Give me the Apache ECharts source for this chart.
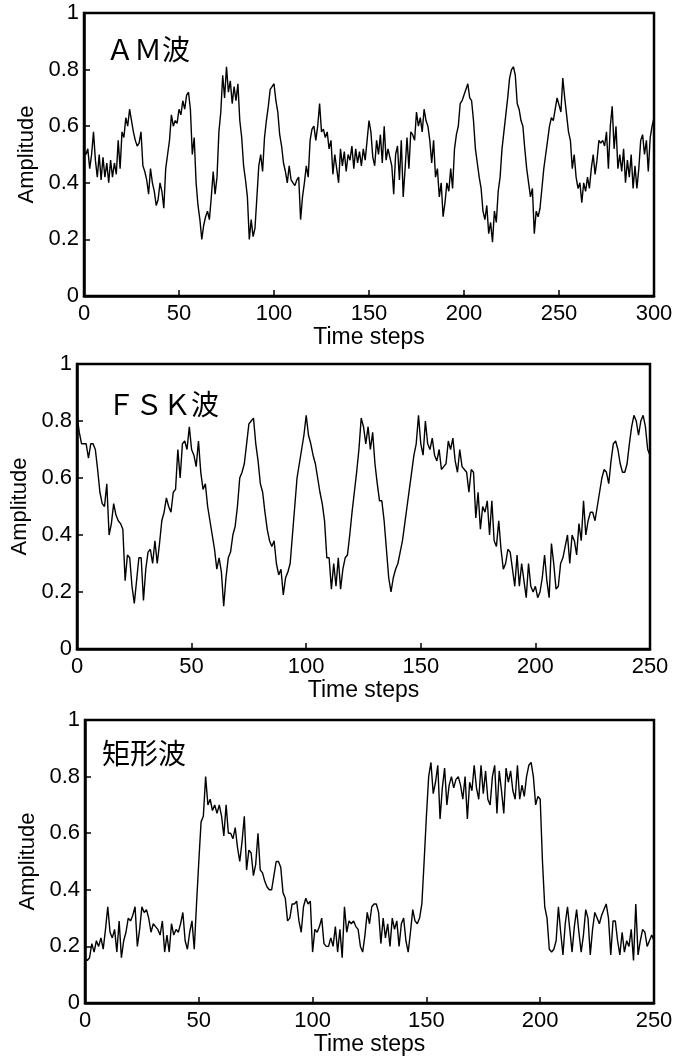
<!DOCTYPE html>
<html>
<head>
<meta charset="utf-8">
<script src="https://cdn.jsdelivr.net/npm/echarts@6/dist/echarts.min.js"></script>
<style>
  html, body { margin: 0; padding: 0; background: #fff; }
  #chart { width: 684px; height: 1059px; }
</style>
</head>
<body>
<div id="chart"></div>
<script>
// Sampled amplitudes, one value per time step.
const amWave = [
  0.51,0.50,0.52,0.45,0.50,0.58,0.48,0.42,0.50,0.41,
  0.49,0.42,0.47,0.40,0.48,0.42,0.47,0.43,0.55,0.45,
  0.58,0.56,0.63,0.60,0.66,0.62,0.58,0.55,0.53,0.54,
  0.58,0.46,0.44,0.41,0.36,0.45,0.40,0.37,0.32,0.34,
  0.40,0.37,0.31,0.45,0.50,0.55,0.64,0.60,0.62,0.61,
  0.66,0.64,0.69,0.66,0.71,0.72,0.66,0.50,0.56,0.40,
  0.32,0.27,0.20,0.25,0.28,0.30,0.27,0.35,0.44,0.36,
  0.42,0.58,0.65,0.78,0.70,0.81,0.72,0.76,0.68,0.74,
  0.69,0.75,0.62,0.56,0.46,0.41,0.35,0.20,0.27,0.21,
  0.24,0.35,0.46,0.50,0.44,0.56,0.62,0.67,0.73,0.74,
  0.75,0.69,0.65,0.57,0.53,0.47,0.44,0.40,0.46,0.41,
  0.40,0.39,0.41,0.42,0.27,0.35,0.40,0.46,0.42,0.55,
  0.59,0.60,0.55,0.60,0.68,0.58,0.59,0.56,0.58,0.52,
  0.55,0.43,0.50,0.45,0.40,0.52,0.46,0.51,0.44,0.50,
  0.48,0.53,0.45,0.52,0.47,0.51,0.46,0.52,0.48,0.55,
  0.62,0.58,0.49,0.46,0.55,0.50,0.57,0.47,0.60,0.48,
  0.52,0.49,0.46,0.36,0.50,0.53,0.41,0.55,0.35,0.45,
  0.56,0.45,0.58,0.57,0.55,0.65,0.60,0.63,0.58,0.66,
  0.62,0.60,0.55,0.47,0.55,0.42,0.45,0.35,0.40,0.28,
  0.33,0.40,0.37,0.45,0.38,0.52,0.57,0.60,0.68,0.69,
  0.71,0.73,0.75,0.70,0.69,0.62,0.52,0.47,0.42,0.38,
  0.30,0.27,0.32,0.22,0.26,0.19,0.30,0.26,0.37,0.42,
  0.52,0.58,0.64,0.70,0.77,0.80,0.81,0.78,0.68,0.66,
  0.62,0.60,0.52,0.45,0.40,0.35,0.38,0.22,0.30,0.28,
  0.31,0.38,0.45,0.50,0.55,0.60,0.63,0.62,0.66,0.70,
  0.70,0.65,0.77,0.70,0.64,0.58,0.55,0.45,0.50,0.42,
  0.38,0.40,0.33,0.40,0.37,0.42,0.38,0.45,0.50,0.43,
  0.48,0.55,0.54,0.55,0.53,0.58,0.45,0.60,0.67,0.52,
  0.60,0.45,0.50,0.44,0.52,0.40,0.48,0.42,0.50,0.38,
  0.46,0.38,0.45,0.55,0.57,0.50,0.55,0.44,0.56,0.60,
  0.63
];

const fskWave = [
  0.82,0.76,0.72,0.72,0.72,0.67,0.72,0.72,0.70,0.63,
  0.55,0.51,0.50,0.58,0.40,0.44,0.51,0.47,0.45,0.44,
  0.42,0.24,0.33,0.32,0.22,0.16,0.24,0.32,0.32,0.17,
  0.28,0.34,0.35,0.30,0.38,0.30,0.37,0.45,0.48,0.53,
  0.50,0.48,0.55,0.56,0.70,0.60,0.72,0.73,0.70,0.78,
  0.70,0.68,0.64,0.73,0.62,0.56,0.58,0.50,0.45,0.40,
  0.35,0.28,0.32,0.27,0.15,0.25,0.32,0.34,0.40,0.43,
  0.50,0.60,0.62,0.65,0.72,0.79,0.80,0.81,0.72,0.66,
  0.58,0.55,0.48,0.42,0.38,0.36,0.38,0.30,0.26,0.28,
  0.19,0.25,0.27,0.30,0.40,0.50,0.60,0.65,0.70,0.75,
  0.82,0.75,0.72,0.68,0.65,0.60,0.55,0.51,0.45,0.32,
  0.32,0.21,0.30,0.22,0.32,0.21,0.28,0.32,0.33,0.40,
  0.48,0.55,0.62,0.70,0.81,0.78,0.72,0.78,0.70,0.76,
  0.65,0.58,0.52,0.52,0.45,0.35,0.25,0.20,0.25,0.28,
  0.30,0.34,0.38,0.44,0.50,0.56,0.62,0.68,0.72,0.82,
  0.72,0.68,0.80,0.72,0.70,0.74,0.68,0.66,0.70,0.63,
  0.64,0.65,0.73,0.70,0.74,0.66,0.62,0.70,0.64,0.63,
  0.62,0.55,0.63,0.62,0.46,0.55,0.42,0.50,0.48,0.52,
  0.40,0.52,0.38,0.36,0.45,0.35,0.28,0.30,0.35,0.34,
  0.28,0.22,0.33,0.22,0.30,0.24,0.18,0.30,0.22,0.20,
  0.22,0.18,0.20,0.25,0.33,0.24,0.18,0.37,0.30,0.21,
  0.22,0.30,0.32,0.36,0.40,0.30,0.40,0.38,0.33,0.44,
  0.38,0.52,0.40,0.45,0.48,0.48,0.45,0.50,0.55,0.60,
  0.63,0.62,0.58,0.66,0.72,0.73,0.70,0.65,0.62,0.62,
  0.65,0.72,0.78,0.82,0.80,0.75,0.80,0.82,0.78,0.70,
  0.68
];

const rectWave = [
  0.16,0.15,0.16,0.21,0.18,0.22,0.20,0.23,0.19,0.26,
  0.34,0.25,0.23,0.26,0.18,0.29,0.16,0.22,0.25,0.30,
  0.29,0.31,0.34,0.20,0.26,0.34,0.32,0.33,0.30,0.25,
  0.28,0.27,0.26,0.24,0.29,0.18,0.24,0.18,0.28,0.24,
  0.26,0.25,0.28,0.32,0.22,0.19,0.25,0.29,0.19,0.35,
  0.50,0.64,0.66,0.80,0.70,0.72,0.68,0.70,0.67,0.70,
  0.66,0.59,0.70,0.60,0.60,0.58,0.62,0.55,0.50,0.57,
  0.66,0.47,0.54,0.53,0.45,0.49,0.60,0.47,0.46,0.43,
  0.41,0.40,0.40,0.45,0.50,0.50,0.48,0.39,0.37,0.29,
  0.30,0.35,0.35,0.36,0.29,0.25,0.34,0.37,0.35,0.36,
  0.18,0.26,0.25,0.27,0.30,0.21,0.20,0.20,0.23,0.20,
  0.27,0.18,0.26,0.16,0.34,0.25,0.29,0.28,0.29,0.27,
  0.26,0.20,0.18,0.24,0.32,0.28,0.34,0.35,0.35,0.32,
  0.21,0.30,0.23,0.28,0.20,0.30,0.26,0.29,0.20,0.28,
  0.30,0.22,0.18,0.25,0.33,0.29,0.28,0.30,0.35,0.50,
  0.66,0.80,0.85,0.74,0.78,0.84,0.65,0.76,0.83,0.70,
  0.77,0.80,0.76,0.79,0.80,0.77,0.72,0.80,0.65,0.78,
  0.75,0.84,0.76,0.72,0.84,0.74,0.82,0.72,0.70,0.80,
  0.84,0.67,0.82,0.75,0.67,0.83,0.78,0.82,0.75,0.72,
  0.84,0.72,0.77,0.73,0.80,0.84,0.85,0.80,0.70,0.73,
  0.72,0.50,0.34,0.30,0.19,0.18,0.19,0.22,0.34,0.25,
  0.17,0.28,0.34,0.26,0.18,0.27,0.33,0.25,0.18,0.24,
  0.33,0.30,0.17,0.26,0.32,0.30,0.28,0.31,0.33,0.35,
  0.30,0.17,0.29,0.29,0.22,0.17,0.25,0.18,0.22,0.20,
  0.26,0.15,0.35,0.17,0.22,0.26,0.25,0.20,0.22,0.24,
  0.22
];

const panelTitles = ['ＡＭ波', 'ＦＳＫ波', '矩形波'];
const timeMax = [300, 250, 250];
const xLabel = 'Time steps';
const yLabel = 'Amplitude';

// Plot-area placement of the three stacked panels (pixels).
const layout = [
  { left: 84, top: 13, width: 570, height: 283, titleLeft: 106, titleTop: 35 },
  { left: 77, top: 364, width: 573, height: 285, titleLeft: 107, titleTop: 390 },
  { left: 85, top: 720, width: 569, height: 283, titleLeft: 102, titleTop: 739 }
];

const waves = [amWave, fskWave, rectWave];
const LATIN = '"Liberation Sans", Arial, Helvetica, sans-serif';
const CJK = '"Noto Sans CJK JP", "Noto Sans CJK SC", sans-serif';

const grid = [], xAxis = [], yAxis = [], series = [], title = [];

layout.forEach((p, i) => {
  grid.push({
    left: p.left, top: p.top, width: p.width, height: p.height,
    show: true, borderColor: '#000', borderWidth: 2.5, backgroundColor: '#fff'
  });
  xAxis.push({
    gridIndex: i, type: 'value', min: 0, max: timeMax[i], interval: 50,
    axisLine: { show: true, onZero: false, lineStyle: { color: '#000', width: 2.5 } },
    axisTick: { show: true, inside: true, length: 6, lineStyle: { color: '#000', width: 1.5 } },
    axisLabel: { color: '#000', fontSize: 22, margin: 7, fontFamily: LATIN, showMinLabel: true, showMaxLabel: true },
    splitLine: { show: false },
    name: xLabel, nameLocation: 'middle', nameGap: 27,
    nameTextStyle: { color: '#000', fontSize: 23, fontFamily: LATIN }
  });
  yAxis.push({
    gridIndex: i, type: 'value', min: 0, max: 1, interval: 0.2,
    axisLine: { show: true, lineStyle: { color: '#000', width: 2.5 } },
    axisTick: { show: true, inside: true, length: 6, lineStyle: { color: '#000', width: 1.5 } },
    axisLabel: { color: '#000', fontSize: 22, margin: 5, fontFamily: LATIN, showMinLabel: true, showMaxLabel: true },
    splitLine: { show: false },
    name: yLabel, nameLocation: 'middle', nameGap: 33, nameRotate: 90,
    nameTextStyle: { color: '#000', fontSize: 22, fontFamily: LATIN }
  });
  series.push({
    type: 'line', xAxisIndex: i, yAxisIndex: i,
    data: waves[i].map((v, t) => [t, v]),
    showSymbol: false, symbol: 'none', smooth: false,
    lineStyle: { color: '#000', width: 1.4 },
    silent: true, animation: false
  });
  title.push({
    text: panelTitles[i], left: p.titleLeft, top: p.titleTop, padding: 0,
    textStyle: { color: '#000', fontSize: 28, fontWeight: 'normal', fontFamily: CJK }
  });
});

const chart = echarts.init(document.getElementById('chart'), null, { renderer: 'canvas' });
chart.setOption({
  backgroundColor: '#fff',
  animation: false,
  title, grid, xAxis, yAxis, series
});
</script>
</body>
</html>
